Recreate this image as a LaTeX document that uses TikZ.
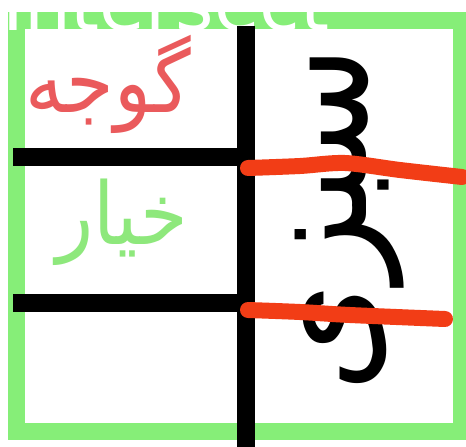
\documentclass[tikz,border=0pt]{standalone}
\usepackage{fontspec}
\setmainfont{DejaVu Sans}
\newfontfamily\arabicfont[Script=Arabic]{DejaVu Sans}
\TeXXeTstate=1
\definecolor{bordergreen}{HTML}{86EE78}
\definecolor{labelred}{HTML}{EA5A5C}
\definecolor{labelgreen}{HTML}{8EE87C}
\definecolor{strokered}{HTML}{F23D16}
\tikzset{
  frame/.style={draw=bordergreen, line width=17pt},
  blackbar/.style={draw=black, line width=18pt, line cap=butt},
  redmark/.style={draw=strokered, line width=16pt, line cap=round, line join=round},
  arlabel/.style={inner sep=0pt, font=\arabicfont},
}
\begin{document}
\begin{tikzpicture}[x=1pt,y=-1pt]
\useasboundingbox (0,0) rectangle (466,447);
\clip (0,0) rectangle (466,447);
\fill[white] (0,0) rectangle (466,447);
\draw[frame] (16.5,20.5) rectangle (461.5,431);
\node[anchor=base west, inner sep=0pt, text=white, font=\fontsize{74}{74}\selectfont] (title) at (2,30) {Intersect};
\coordinate (vtop) at (246,26);
\coordinate (vbot) at (246,447);
\coordinate (h1l) at (13,157);
\coordinate (h1r) at (246,157);
\coordinate (h2l) at (13,303);
\coordinate (h2r) at (246,303);
\draw[blackbar] (vtop) -- (vbot);
\draw[blackbar] (h1l) -- (h1r);
\draw[blackbar] (h2l) -- (h2r);
\node[arlabel, text=labelred, yscale=1.12, font=\arabicfont\fontsize{77}{77}\selectfont] (tomato) at (108,84) {\beginR گوجه\endR};
\node[arlabel, text=labelgreen, yscale=1.12, font=\arabicfont\fontsize{77}{77}\selectfont] (cucumber) at (122,222) {\beginR خیار\endR};
\node[arlabel, text=black, rotate=90, yscale=1.1, font=\arabicfont\fontsize{140}{140}\selectfont] (veg) at (350,219) {\beginR سبزی\endR};
\draw[redmark] plot[smooth] coordinates {(248,168) (300,166) (345,163) (400,170) (462,177)};
\draw[redmark] plot[smooth] coordinates {(248,310) (300,312) (350,315) (445,319)};
\end{tikzpicture}
\end{document}
